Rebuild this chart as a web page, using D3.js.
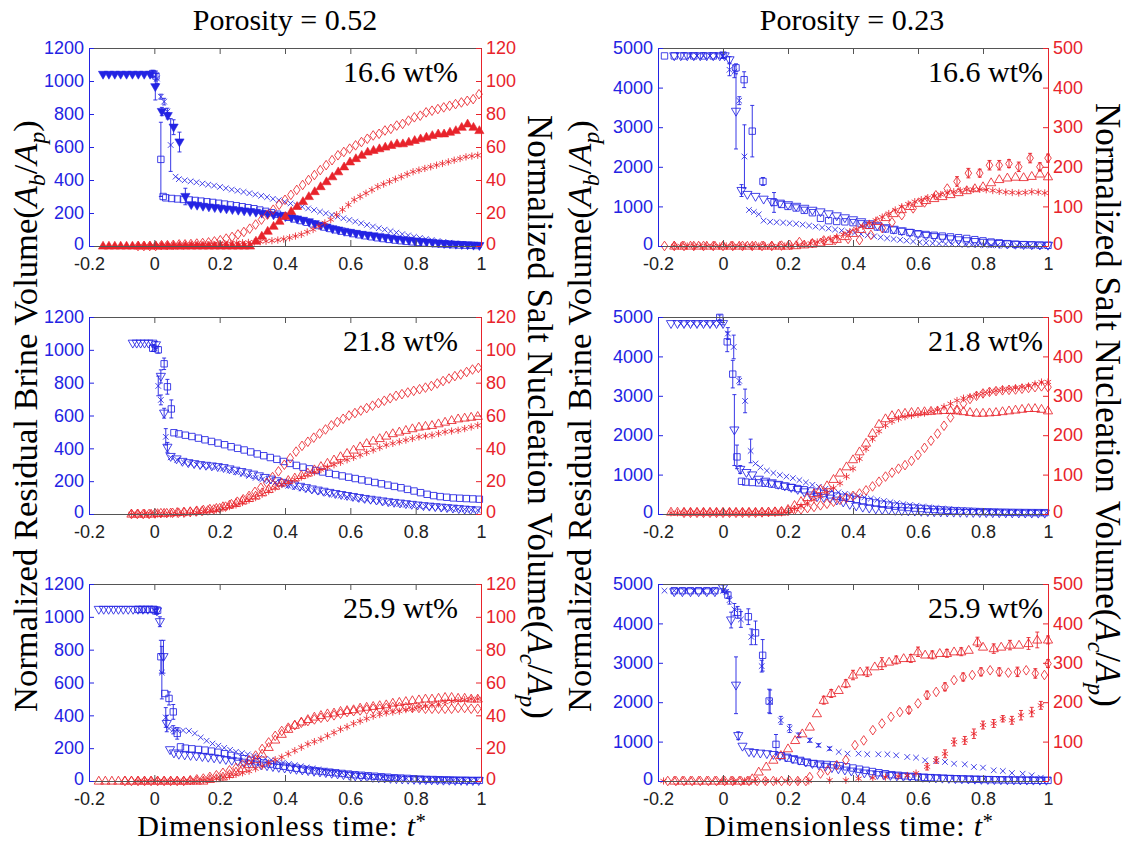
<!DOCTYPE html>
<html>
<head>
<meta charset="utf-8">
<script src="https://cdn.jsdelivr.net/npm/d3@7"></script>
<style>
  body { margin: 0; background: #fff; }
  svg { display: block; }
</style>
</head>
<body>
<svg id="fig" width="1129" height="842"></svg>
<script>
"use strict";

// helpers for regularly sampled time series (t0 + i*dt) and flat stretches
var seq = function(t0, dt, vals) { return vals.map(function(v, i) { return [+(t0 + i * dt).toFixed(4), v]; }); };
var rep = function(v, n) { return Array(n).fill(v); };

// ---- axis ticks / labels ----
var X_TICKS = [-0.2, 0, 0.2, 0.4, 0.6, 0.8, 1];
var BRINE_TICKS_52 = [0, 200, 400, 600, 800, 1000, 1200];
var SALT_TICKS_52 = [0, 20, 40, 60, 80, 100, 120];
var BRINE_TICKS_23 = [0, 1000, 2000, 3000, 4000, 5000];
var SALT_TICKS_23 = [0, 100, 200, 300, 400, 500];
var POROSITY = ["Porosity = 0.52", "Porosity = 0.23"];
var CONCENTRATION = ["16.6 wt%", "21.8 wt%", "25.9 wt%"];

// ---- porosity 0.52, 16.6 wt% ----
var p52c166_triDn = [].concat(seq(-0.157, 0.018, rep(1040, 9)),
  [[0.003,965,80],[0.023,815,25],[0.041,790,20],[0.059,720,45],[0.077,630,60],[0.095,300,50]],
  seq(0.113, 0.018, [250,246,240,236,232,228,224,220,216,212,208,204,198,193,188,182,177,170,163,155,146,135,124,114,104,96,88,82,76,70,66,61,56,52,47,42,38,34,30,27,24,20,17,14,12,10,8,6,4,2]));
var p52c166_cross = [].concat(
  [[-0.005,1040,20],[0.008,1015,30],[0.02,905,15],[0.03,875,20],[0.04,815,20],[0.05,612,160],[0.065,420,0]],
  seq(0.075, 0.018, [405,398,392,386,378,372,366,358,350,342,335,328,320,312,304,296,286,278,268,258,248,238,228,218,208,198,188,178,168,158,148,138,128,118,108,99,90,81,72,64,56,49,42,36,30,25,20,16,12,9,7,5]));
var p52c166_sq = [].concat(
  [[-0.005,1045,20],[0.005,1030,30],[0.02,525,225],[0.027,300,0]],
  seq(0.035, 0.018, [292,288,285,282,279,276,272,268,264,259,254,249,244,238,232,226,218,210,202,193,184,174,164,154,144,134,124,115,106,98,90,82,75,68,62,56,50,45,40,36,32,28,25,22,19,16,14,12,10,8,6,5,4,3]));
var p52c166_triUp = [].concat(seq(-0.157, 0.018, rep(0, 26)),
  seq(0.311, 0.018, [3,6,9,12,15,18,21,24,27,30,33,36,39,42,45,48,51,53,55,57,58,59,60,61,62,62,63,64,65,66,67,68,68,69,70,72,74,72,70]));
var p52c166_dia = seq(-0.05, 0.018, [0,0,0,0,0.5,0.5,0.7,1,1,1.2,1.5,1.8,2.2,2.8,3.5,4.5,5.5,7,8.5,10.5,13,16,19,22,25,28,31,34,37,40,43,46,49,52,55,57,59,61,63,65,67,68,70,71,73,74,76,78,79,81,82,83,84,85,86,87,88,89,92]);
var p52c166_star = seq(0, 0.018, [0,0,0,0,0,0,0.3,0.5,0.6,0.8,1,1.2,1.4,1.6,1.8,2,2.2,2.4,2.6,2.9,3.2,3.6,4.2,5,6,7,8.5,10,12,14,16,19,22,25,28,30,32,34,36,37.5,39,40.5,42,43.5,45,46,47,48,49,50,51,52,53,54,54.5,55]);

// ---- porosity 0.23, 16.6 wt% ----
var p23c166_triDn = [].concat(seq(-0.15, 0.02, rep(4800, 8)),
  [[0.005,4800,0],[0.02,4700,80],[0.04,3400,950],[0.057,1400,150]],
  seq(0.075, 0.025, [1300,1250,1180,1120,1080,1040,1000,950,900,860,810,760,710,660,610,560,510,460,420,380,340,300,265,235,205,180,155,130,110,90,75,60,50,40,32,26,20,16]));
var p23c166_sq = [].concat(seq(-0.18, 0.03, rep(4800, 6)),
  [[0,4820,60],[0.04,4500,100],[0.065,4200,200],[0.09,2900,650],[0.123,1630,100],[0.157,1100,250],[0.18,1050,0]],
  seq(0.2, 0.025, [1000,960,900,840,700,640,620,610,590,560,520,480,430,400,370,340,310,290,270,250,230,210,190,160,130,100,80,60,45,35,28,22,18]));
var p23c166_cross = [].concat(seq(-0.1, 0.02, rep(4800, 5)),
  [[0,4790,50],[0.02,4450,150],[0.035,4400,150],[0.05,3670,100],[0.066,2260,800],[0.08,910,0],[0.095,860,0],[0.11,800,0]],
  seq(0.125, 0.02, [640,610,600,590,575,560,540,515,490,465,440,415,390,360,330,300,270,245,220,195,175,155,135,115,95,80,70,60,50,45,40,35,30,26,22,19,16,14,12,10,9,8,7,6]));
var p23c166_dia = [[-0.18,0],[-0.15,0],[-0.12,0],[-0.09,0],[-0.06,0],[-0.03,0],[0,0],[0.03,0],[0.06,0],[0.09,0],[0.12,0],[0.15,0],[0.18,1],[0.205,3],[0.235,10],[0.275,7],[0.31,14],[0.345,15],[0.385,18],[0.42,15],[0.455,28],[0.49,45],[0.52,60],[0.55,78],[0.585,95],[0.62,110],[0.655,128],[0.69,145],[0.72,163,12],[0.755,184,12],[0.79,184,10],[0.82,204,12],[0.85,204,12],[0.88,208,10],[0.91,200,12],[0.945,222,12],[0.975,200,10],[1.0,222,10]];
var p23c166_triUp = seq(-0.15, 0.025, [0,0,0,0,0,0,0,0,0,0,0,0,0,0,0,1,3,5,8,12,17,24,32,42,52,62,72,82,92,100,108,115,120,125,130,135,140,145,150,160,168,172,174,173,176,182,175]);
var p23c166_star = seq(-0.15, 0.02, [0,0,0,0,0,0,0,0,0,0,0,0,0,0,0,0,0,0,0,2,4,7,10,14,18,23,29,36,43,50,57,65,73,82,91,99,106,112,117,122,126,130,134,137,140,142,143,143,142,140,138,136,135,134,135,137,136,134]);

// ---- porosity 0.52, 21.8 wt% ----
var p52c218_triDn = [].concat(seq(-0.066, 0.012, rep(1040, 6)),
  [[0.005,1030,20],[0.02,838,40],[0.03,614,30],[0.04,406,30]],
  seq(0.05, 0.018, [350,335,320,312,306,300,296,292,288,282,274,266,258,250,242,232,222,212,202,192,184,176,168,160,152,145,138,131,124,118,112,106,100,94,89,84,79,74,70,66,62,58,54,50,47,44,41,38,35,32,29,26,24]));
var p52c218_cross = [].concat([[0,1010,20],[0.012,780,60],[0.02,695,30],[0.035,470,50]],
  seq(0.05, 0.02, [345,330,315,306,300,294,290,285,276,266,255,244,232,220,210,200,190,180,172,164,156,148,140,132,125,118,111,104,98,92,86,80,75,70,65,60,56,52,48,45,42,39,36,33,30,28,26,24]));
var p52c218_sq = [].concat([[-0.005,1010,20],[0.012,1000,20],[0.03,915,35],[0.04,775,45],[0.052,640,55],[0.06,495,0]],
  seq(0.075, 0.02, [488,480,472,462,452,442,432,422,410,400,390,378,366,355,344,333,320,308,296,285,275,265,256,248,240,232,224,216,208,200,192,184,176,168,160,150,140,130,120,112,106,102,98,96,94,92,90]));
var p52c218_dia = seq(-0.07, 0.018, [0,0,0,0,0.3,0.5,0.5,0.7,0.8,1,1.2,1.5,1.8,2.2,2.8,3.5,4.5,6,7.5,9,11,13.5,16,19,22.5,26,30,34,38,41.5,44,46.5,49,51.5,54,56,58,60,61.5,63,64.5,66,67.5,69,70.5,72,73,74,75,76,77,78,79.5,81,82.5,84,85,86.5,88,89]);
var p52c218_triUp = seq(-0.07, 0.02, [0,0,0,0,0.3,0.5,0.7,1,1.2,1.5,2,2.5,3,3.5,4.5,5.5,6.5,8,9.5,11,13,15,17,19,20.5,22,23.5,25,27,29,31,33,35,37,39,41,43,44.5,46,47.5,49,50,51,52,53,53.5,54,55,56,57,58,58.5,59,59.5]);
var p52c218_star = seq(-0.07, 0.02, [0,0,0,0,0,0,0,0,0,0.5,1,1.5,2,2.5,3.5,4.5,5.5,7,8.5,10,12,14,16,18,19.5,21,22.5,24,25.5,27,28.5,30,31.5,33,34.5,36,37.5,39,40.5,42,43,44,45,46,47,47.5,48,49,50,50.5,51,52,53,54]);

// ---- porosity 0.23, 21.8 wt% ----
var p23c218_triDn = [].concat(seq(-0.16, 0.02, rep(4830, 8)),
  [[0,4830,30],[0.035,2130,900],[0.053,1130,100],[0.072,1050,0],[0.09,990,0]],
  seq(0.11, 0.02, [880,830,790,750,710,670,620,560,480,440,420,400,350,300,240,200,170,145,125,110,100,90,82,76,70,64,58,54,50,46,43,40,37,35,33,31,29,27,25,23,21,20,19,18,17]));
var p23c218_sq = [].concat([[-0.01,4990,60],[0.013,4370,250],[0.03,3550,350],[0.043,1450,300],[0.057,830,0]],
  seq(0.07, 0.02, [810,800,790,780,760,735,705,675,645,615,585,555,520,485,455,425,400,370,340,310,280,250,225,200,180,165,150,140,125,115,105,95,85,78,72,66,60,56,52,48,45,42,40,38,36,35,34]));
var p23c218_cross = [].concat(seq(-0.13, 0.02, rep(4830, 7)),
  [[0.015,4580,150],[0.033,4240,300],[0.05,3380,100],[0.068,2870,300],[0.085,1600,300],[0.1,1280,0]],
  seq(0.115, 0.02, [1180,1100,1040,990,950,910,860,800,740,690,640,590,550,510,480,450,420,390,360,330,300,275,250,228,208,190,172,156,140,126,114,103,94,86,79,72,66,60,55,50,46,42,38,35,32]));
var p23c218_triUp = seq(-0.16, 0.02, [5,5,5,5,5,5,5,5,5,5,5,5,5,5,5,5,5,5,12,22,32,42,52,62,72,88,104,120,138,158,180,205,228,242,250,254,256,258,259,260,261,262,263,263,262,260,258,256,256,257,258,260,262,264,266,268,268,266,262]);
var p23c218_star = seq(-0.16, 0.02, [3,3,3,3,3,3,3,3,3,3,3,3,3,3,3,3,3,3,6,12,20,28,36,45,55,66,78,95,115,140,165,190,210,225,235,242,247,250,253,256,260,264,272,280,288,294,298,302,306,310,313,316,318,320,322,325,330,335,335]);
var p23c218_dia = seq(-0.12, 0.02, [3,3,3,3,3,3,3,3,3,3,3,3,4,5,6,7,8,10,12,15,18,22,26,31,36,41,46,52,60,70,82,95,105,115,124,135,150,168,186,204,224,245,265,280,292,300,306,310,312,314,315,316,318,320,322,324,322]);

// ---- porosity 0.52, 25.9 wt% ----
var p52c259_triDn = [].concat(seq(-0.17, 0.015, rep(1045, 12)),
  [[0.008,1035,15],[0.017,970,30],[0.028,757,100],[0.038,350,50],[0.048,190,0],[0.06,170,0]],
  seq(0.075, 0.018, [162,158,155,152,148,144,140,135,130,125,120,114,108,102,97,92,87,82,78,74,70,66,62,58,54,50,46,42,38,34,30,27,24,21,19,17,15,13,11,10,9,8,7,6,5,4,4,3,3,2,2,2]));
var p52c259_sq = [].concat(seq(-0.05, 0.012, rep(1045, 5)),
  [[0.01,1040,20],[0.02,757,100],[0.032,533,0],[0.045,503,40],[0.058,421,45],[0.07,290,35],[0.08,208,0]],
  seq(0.095, 0.02, [200,196,192,188,182,175,166,156,146,136,126,118,110,103,96,90,84,78,72,67,62,58,54,50,46,42,38,35,32,29,26,23,20,18,16,14,12,10,9,8,7,6,5,5,4,4]));
var p52c259_cross = [].concat([[0.005,1030,15],[0.023,660,160],[0.035,387,60],[0.045,320,0],[0.058,312,25]],
  seq(0.07, 0.018, [310,308,305,290,265,245,228,215,202,190,178,170,162,152,143,135,128,120,112,104,97,90,83,77,71,65,59,54,49,45,41,37,33,30,27,24,21,18,16,14,12,10,9,8,7,6,5,5,4,4,3,3]));
var p52c259_triUp = seq(-0.17, 0.02, [0,0,0,0,0,0,0,0,0,0,0,0,0,0,0,0,0,1,1.5,2.5,4,5.5,7.5,10,13,16.5,20.5,25,28.5,31.5,34,36,37.5,39,40,41,41.5,42.5,43,43.5,44.5,45,45.5,46,46.5,47.5,48,48.5,49,49.5,50,50,50.5,51,51,50.5,50.5,50,50]);
var p52c259_dia = seq(-0.09, 0.02, [0,0,0,0,0,0,0,0,0,0,0.5,1,1.5,2.5,3.5,5,6.5,8,10,12.5,15.5,19.5,23.5,27.5,30.5,32.5,34,35.5,36.5,37.5,38.5,39,40,41,42,42.5,43,43.5,44,44,44.5,45,45,45,44.5,44.5,44,44,44,44,44,44.5,44.5,44,44]);
var p52c259_star = seq(-0.05, 0.02, [0,0,0,0,0,0,0,0,0,0,0.5,1,1.5,2,3,4,5,6,7.5,9,11,13,14.5,16.5,18.5,20.5,22.5,24,25.5,27.5,29.5,31.5,33,35,36.5,38,39.5,40.5,41.5,42,42.5,43.5,44,45,45.5,46.5,47,48,48.5,49,49.5,50,50]);

// ---- porosity 0.23, 25.9 wt% ----
var p23c259_triDn = [].concat(seq(-0.15, 0.025, rep(4800, 6)),
  [[0,4900,80],[0.025,4085,200],[0.04,2430,720],[0.047,1150,100],[0.06,880,0],[0.08,740,0]],
  seq(0.095, 0.02, [720,705,690,670,640,605,565,525,480,440,405,370,335,305,275,250,225,200,180,165,150,138,126,115,106,98,90,82,75,68,62,56,51,46,42,38,34,31,28,25,23,21,19,18,17,16]));
var p23c259_sq = [].concat(seq(-0.15, 0.025, rep(4830, 6)),
  [[0.015,4720,80],[0.045,4280,150],[0.078,4170,200],[0.1,3760,300],[0.122,3190,400],[0.142,2030,300],[0.163,930,250]],
  seq(0.18, 0.02, [640,580,540,500,470,445,430,420,410,390,360,330,300,270,240,210,185,160,145,130,118,106,95,86,78,70,63,57,52,47,43,39,35,32,29,26,24,22,20,18,17,16]));
var p23c259_cross = [[-0.18,4830],[-0.15,4830],[-0.12,4830],[-0.09,4830],[-0.06,4830],[-0.03,4830],[0,4830,50],[0.01,4800,50],[0.02,4590,100],[0.035,4355,150],[0.055,4100,200],[0.087,3660,200],[0.119,2915,150],[0.145,2010,300],[0.178,1540,100],[0.205,1330,100],[0.233,1160,60],[0.267,1034,50],[0.294,907,40],[0.328,822,40],[0.356,737],[0.383,695],[0.417,695],[0.444,678],[0.478,678],[0.506,678],[0.533,652],[0.567,610],[0.594,593],[0.622,525],[0.656,508],[0.683,483],[0.711,440],[0.744,424],[0.772,356],[0.8,339],[0.833,271],[0.861,254],[0.889,203],[0.922,186],[0.95,144],[0.978,85]];
var p23c259_triUp = [].concat(seq(-0.15, 0.025, rep(0, 10)),
  [[0.09,6],[0.11,23],[0.133,36],[0.155,53],[0.178,65],[0.2,82],[0.222,103],[0.244,120],[0.267,137],[0.289,171],[0.31,205,10],[0.333,222,10],[0.356,230],[0.378,247,10],[0.4,269,12],[0.422,277],[0.444,277,12],[0.467,290],[0.489,298,15],[0.511,302],[0.533,307,10],[0.556,311],[0.578,311,10],[0.6,328,12],[0.622,320],[0.644,320,10],[0.667,324],[0.689,324,10],[0.711,328],[0.733,328,10],[0.756,332],[0.783,353,12],[0.8,340],[0.833,336,12],[0.856,340],[0.883,345,12],[0.911,345],[0.94,349,15],[0.967,358,20],[1.0,358,10]]);
var p23c259_dia = [].concat(seq(-0.17, 0.025, rep(0, 18)),
  [[0.267,10],[0.3,19],[0.322,27],[0.35,40],[0.378,53],[0.406,91],[0.433,103],[0.461,129],[0.489,146],[0.517,163],[0.544,175],[0.572,180,8],[0.6,197],[0.628,218,10],[0.656,226],[0.683,239,10],[0.711,256],[0.739,264,10],[0.767,269],[0.794,277,10],[0.822,281],[0.85,277,10],[0.878,275],[0.906,277,12],[0.933,281],[0.961,273,12],[0.989,269],[1.0,298,10]]);
var p23c259_star = [].concat([[-0.183,0]], seq(0, 0.033, rep(0, 9)),
  [[0.328,2],[0.378,2],[0.417,6],[0.461,8],[0.5,10],[0.539,12],[0.567,14],[0.594,20],[0.628,36,8],[0.656,53,8],[0.683,69,10],[0.711,99,10],[0.744,103,10],[0.772,120,12],[0.8,142,10],[0.833,146,10],[0.861,158,8],[0.889,154,10],[0.917,167,12],[0.95,175,12],[0.978,192,10]]);

// ---- layout ----
var COLS = [
  {x0: 89, x1: 481, cx: 285, tagRight: 23, brineTicks: BRINE_TICKS_52, saltTicks: SALT_TICKS_52},
  {x0: 658, x1: 1048, cx: 852, tagRight: 5, brineTicks: BRINE_TICKS_23, saltTicks: SALT_TICKS_23}
];
var ROWS = [{y0: 48, y1: 246}, {y0: 317, y1: 514}, {y0: 584, y1: 781}];

var panels = [
  {col: 0, row: 0, blue: [[p52c166_sq, "square"], [p52c166_cross, "cross"], [p52c166_triDn, "triDnFill"]],
                   red:  [[p52c166_dia, "diamond"], [p52c166_star, "star"], [p52c166_triUp, "triUpFill"]]},
  {col: 1, row: 0, blue: [[p23c166_sq, "square"], [p23c166_cross, "cross"], [p23c166_triDn, "triDn"]],
                   red:  [[p23c166_dia, "diamond"], [p23c166_triUp, "triUp"], [p23c166_star, "star"]]},
  {col: 0, row: 1, blue: [[p52c218_sq, "square"], [p52c218_cross, "cross"], [p52c218_triDn, "triDn"]],
                   red:  [[p52c218_dia, "diamond"], [p52c218_triUp, "triUp"], [p52c218_star, "star"]]},
  {col: 1, row: 1, blue: [[p23c218_sq, "square"], [p23c218_cross, "cross"], [p23c218_triDn, "triDn"]],
                   red:  [[p23c218_dia, "diamond"], [p23c218_triUp, "triUp"], [p23c218_star, "star"]]},
  {col: 0, row: 2, blue: [[p52c259_sq, "square"], [p52c259_cross, "cross"], [p52c259_triDn, "triDn"]],
                   red:  [[p52c259_dia, "diamond"], [p52c259_triUp, "triUp"], [p52c259_star, "star"]]},
  {col: 1, row: 2, blue: [[p23c259_sq, "square"], [p23c259_cross, "cross"], [p23c259_triDn, "triDn"]],
                   red:  [[p23c259_dia, "diamond"], [p23c259_triUp, "triUp"], [p23c259_star, "star"]]}
];

var BLUE = "#2323e3", RED = "#e8232b", FRAME = "#555";
var SERIF = "'Liberation Serif', serif";
var SANS = "'Liberation Sans', sans-serif";

var SHAPES = {
  triDn: "M-4.6,-3.1L4.6,-3.1L0,4.8Z",
  triUp: "M-4.6,3.1L4.6,3.1L0,-4.8Z",
  square: "M-3.2,-3.2H3.2V3.2H-3.2Z",
  diamond: "M0,-4.8L3.3,0L0,4.8L-3.3,0Z",
  cross: "M-2.8,-2.8L2.8,2.8M-2.8,2.8L2.8,-2.8",
  star: "M0,-3.6V3.6M-3.1,-1.8L3.1,1.8M-3.1,1.8L3.1,-1.8"
};

var svg = d3.select("#fig");

function drawSeries(g, x, y, data, shape, color) {
  var filled = /Fill$/.test(shape);
  var path = SHAPES[shape.replace("Fill", "")];
  var withErr = data.filter(function(d) { return d[2] > 0; });
  var eb = g.append("g").attr("stroke", color).attr("stroke-width", 0.9).attr("fill", "none");
  eb.selectAll("path").data(withErr).join("path")
    .attr("d", function(d) {
      var xx = x(d[0]), lo = y(Math.max(0, d[1] - d[2])), hi = y(d[1] + d[2]);
      return "M" + xx + "," + lo + "V" + hi + "M" + (xx - 2) + "," + hi + "H" + (xx + 2) +
             "M" + (xx - 2) + "," + lo + "H" + (xx + 2);
    });
  g.append("g").selectAll("path").data(data).join("path")
    .attr("d", path)
    .attr("transform", function(d) { return "translate(" + x(d[0]) + "," + y(d[1]) + ")"; })
    .attr("fill", filled ? color : "none")
    .attr("stroke", color)
    .attr("stroke-width", filled ? 0.6 : 0.85);
}

function styleAxis(a, color, textColor) {
  a.attr("font-family", SANS).attr("font-size", 18);
  a.select(".domain").attr("stroke", color).attr("stroke-width", 1);
  a.selectAll(".tick line").attr("stroke", color);
  a.selectAll(".tick text").attr("fill", textColor);
}

// lift the corner "0" labels a little so they clear the x tick labels below
function liftZero(a) {
  a.selectAll(".tick text").filter(function(d) { return d === 0; }).attr("y", -2.6);
}

panels.forEach(function(p) {
  var c = COLS[p.col], r = ROWS[p.row];
  var x = d3.scaleLinear().domain([-0.2, 1]).range([c.x0, c.x1]);
  var yL = d3.scaleLinear().domain([0, d3.max(c.brineTicks)]).range([r.y1, r.y0]);
  var yR = d3.scaleLinear().domain([0, d3.max(c.saltTicks)]).range([r.y1, r.y0]);
  var g = svg.append("g");

  p.blue.forEach(function(s) { drawSeries(g, x, yL, s[0], s[1], BLUE); });
  p.red.forEach(function(s) { drawSeries(g, x, yR, s[0], s[1], RED); });

  // frame + ticks
  g.append("g").attr("transform", "translate(0," + r.y1 + ")")
    .call(d3.axisBottom(x).tickValues(X_TICKS).tickFormat(String).tickSizeInner(-6).tickSizeOuter(0).tickPadding(11))
    .call(function(a) { styleAxis(a, FRAME, "#222"); });
  g.append("g").attr("transform", "translate(0," + r.y0 + ")")
    .call(d3.axisTop(x).tickValues(X_TICKS).tickFormat("").tickSizeInner(-6).tickSizeOuter(0))
    .call(function(a) { styleAxis(a, FRAME, "#222"); });
  g.append("g").attr("transform", "translate(" + c.x0 + ",0)")
    .call(d3.axisLeft(yL).tickValues(c.brineTicks).tickFormat(String).tickSizeInner(-5).tickSizeOuter(0).tickPadding(5))
    .call(function(a) { styleAxis(a, BLUE, BLUE); liftZero(a); });
  g.append("g").attr("transform", "translate(" + c.x1 + ",0)")
    .call(d3.axisRight(yR).tickValues(c.saltTicks).tickFormat(String).tickSizeInner(-5).tickSizeOuter(0).tickPadding(5))
    .call(function(a) { styleAxis(a, RED, RED); liftZero(a); });

  // concentration tag
  g.append("text")
    .attr("x", c.x1 - c.tagRight).attr("y", r.y0 + 34)
    .attr("text-anchor", "end")
    .attr("font-family", SERIF).attr("font-size", 30)
    .text(CONCENTRATION[p.row]);
});

// column titles and x labels
COLS.forEach(function(c, i) {
  svg.append("text").attr("x", c.cx).attr("y", 30).attr("text-anchor", "middle")
    .attr("font-family", SERIF).attr("font-size", 30).text(POROSITY[i]);
  var t = svg.append("text").attr("x", c.cx - 3).attr("y", 835.6).attr("text-anchor", "middle")
    .attr("font-family", SERIF).attr("font-size", 30).attr("letter-spacing", 0.8);
  t.append("tspan").text("Dimensionless time: ");
  t.append("tspan").attr("font-style", "italic").text("t");
  t.append("tspan").attr("dy", -8).attr("font-size", 20).text("*");
});

// rotated y titles, sized so that their length matches the reference
function volumeTitle(xp, yp, angle, prefix, sub, target) {
  function build(fs) {
    var t = svg.append("text")
      .attr("transform", "translate(" + xp + "," + yp + ") rotate(" + angle + ")")
      .attr("text-anchor", "start")
      .attr("font-family", SERIF).attr("font-size", fs);
    var sh = fs * 0.22, ss = fs * 0.68;
    t.append("tspan").text(prefix + "(");
    t.append("tspan").attr("font-style", "italic").text("A");
    t.append("tspan").attr("dy", sh).attr("font-style", "italic").attr("font-size", ss).text(sub);
    t.append("tspan").attr("dy", -sh).text("/");
    t.append("tspan").attr("font-style", "italic").text("A");
    t.append("tspan").attr("dy", sh).attr("font-style", "italic").attr("font-size", ss).text("p");
    t.append("tspan").attr("dy", -sh).text(")");
    return t;
  }
  var probe = build(32);
  var len = probe.node().getComputedTextLength();
  probe.remove();
  build(Math.min(36, Math.max(28, 32 * target / len)));
}
volumeTitle(37, 712, -90, "Normalized Residual Brine Volume", "b", 592);
volumeTitle(591, 712, -90, "Normalized Residual Brine Volume", "b", 592);
volumeTitle(528, 115, 90, "Normalized Salt Nucleation Volume", "c", 604);
volumeTitle(1096, 103, 90, "Normalized Salt Nucleation Volume", "c", 604);
</script>
</body>
</html>
